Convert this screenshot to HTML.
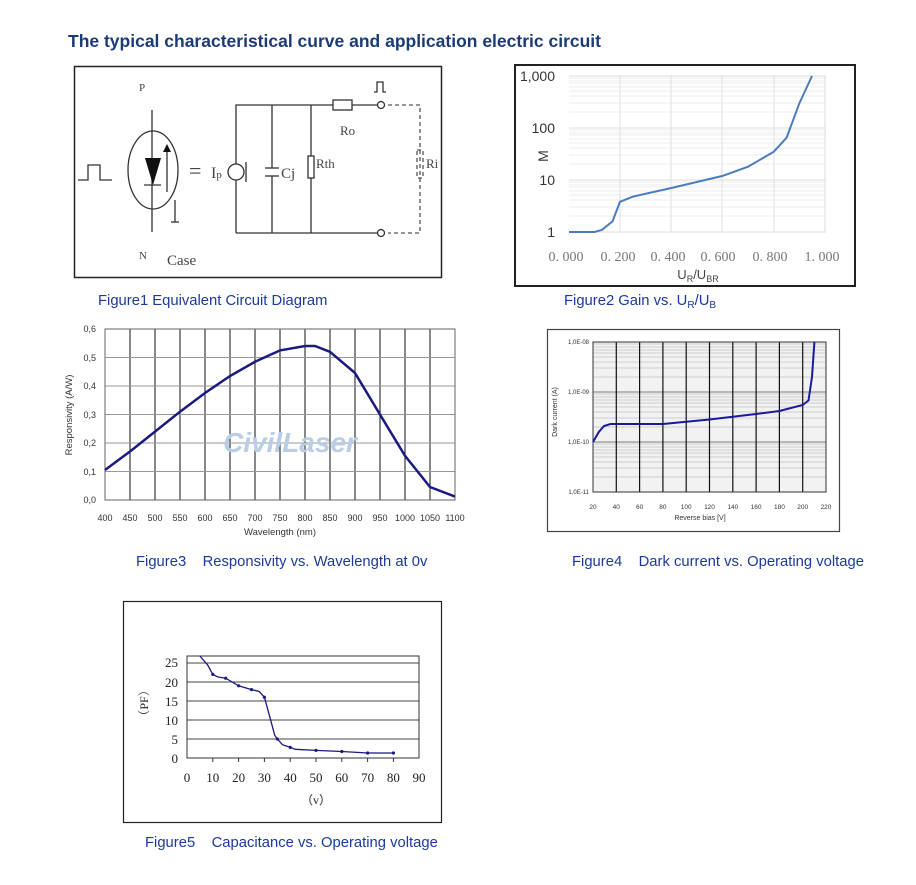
<!DOCTYPE html>
<html><head><meta charset="utf-8"><style>
body{margin:0;background:#fff;width:916px;height:885px;overflow:hidden;font-family:"Liberation Sans",Arial,sans-serif}
svg{position:absolute;left:0;top:0}
</style></head><body>
<svg width="916" height="885" xmlns="http://www.w3.org/2000/svg" font-family="Liberation Sans, sans-serif">
<text x="68" y="47" font-size="17.5" font-weight="bold" fill="#1b3a78">The typical characteristical curve and application electric circuit</text>

<!-- Figure 1 -->
<rect x="74.5" y="66.5" width="367" height="211" fill="#fff" stroke="#222" stroke-width="1.5"/>
<g stroke="#333" fill="none" stroke-width="1.3">
<polyline points="78,180 88,180 88,165 100,165 100,180 112,180"/>
<ellipse cx="153" cy="170" rx="25" ry="39"/>
<line x1="152" y1="110" x2="152" y2="232"/>
<line x1="144" y1="185" x2="161" y2="185"/>
<line x1="167" y1="192" x2="167" y2="150"/>
<line x1="175" y1="200" x2="175" y2="222"/>
<line x1="171" y1="222" x2="179" y2="222"/>
<polyline points="236,233 236,105 333,105"/>
<rect x="333" y="100" width="19" height="10"/>
<line x1="352" y1="105" x2="378" y2="105"/>
<circle cx="381" cy="105" r="3.5"/>
<line x1="236" y1="233" x2="378" y2="233"/>
<circle cx="381" cy="233" r="3.5"/>
<line x1="272" y1="105" x2="272" y2="168"/><line x1="272" y1="176" x2="272" y2="233"/>
<line x1="265" y1="168" x2="279" y2="168"/><line x1="265" y1="176" x2="279" y2="176"/>
<line x1="311" y1="105" x2="311" y2="233"/>
<rect x="308" y="156" width="6" height="22" fill="#fff"/>
<circle cx="236" cy="172" r="8" fill="#fff"/>
<line x1="246" y1="162" x2="246" y2="182"/>
<polyline points="374,92 377,92 377,82 383,82 383,92 386,92"/>
</g>
<polygon points="145,158 161,158 153,185" fill="#111"/>
<polygon points="163,152 171,152 167,144" fill="#111"/>
<g stroke="#555" stroke-dasharray="4,3" fill="none" stroke-width="1.3">
<polyline points="388,105 420,105 420,233 388,233"/>
<rect x="417" y="150" width="6" height="28"/>
</g>
<g font-family="Liberation Serif, serif" fill="#444">
<text x="139" y="91" font-size="11">P</text>
<text x="139" y="259" font-size="11">N</text>
<text x="167" y="265" font-size="15">Case</text>
<text x="189" y="178" font-size="22">=</text>
<text x="211" y="178" font-size="16">I<tspan font-size="11">p</tspan></text>
<text x="281" y="178" font-size="15">Cj</text>
<text x="316" y="168" font-size="13">Rth</text>
<text x="340" y="135" font-size="13">Ro</text>
<text x="426" y="168" font-size="13">Ri</text>
</g>
<text x="98" y="305" font-size="14.8" fill="#1b3a9a">Figure1 Equivalent Circuit Diagram</text>

<!-- Figure 2 -->
<rect x="515" y="65" width="340" height="221" fill="#fff" stroke="#222" stroke-width="2"/>
<g stroke="#ddd" stroke-width="1">
<line x1="569" y1="76" x2="826" y2="76"/>
<line x1="569" y1="128" x2="826" y2="128"/>
<line x1="569" y1="180" x2="826" y2="180"/>
<line x1="569" y1="232" x2="826" y2="232"/>
<line x1="620" y1="76" x2="620" y2="232"/><line x1="671" y1="76" x2="671" y2="232"/><line x1="722" y1="76" x2="722" y2="232"/><line x1="774" y1="76" x2="774" y2="232"/><line x1="825" y1="76" x2="825" y2="232"/>
</g>
<g stroke="#e6e6e6" stroke-width="0.8">
<line x1="569" y1="216" x2="826" y2="216"/><line x1="569" y1="207" x2="826" y2="207"/><line x1="569" y1="200" x2="826" y2="200"/><line x1="569" y1="195" x2="826" y2="195"/><line x1="569" y1="191" x2="826" y2="191"/><line x1="569" y1="187" x2="826" y2="187"/><line x1="569" y1="185" x2="826" y2="185"/><line x1="569" y1="182" x2="826" y2="182"/>
<line x1="569" y1="164" x2="826" y2="164"/><line x1="569" y1="155" x2="826" y2="155"/><line x1="569" y1="148" x2="826" y2="148"/><line x1="569" y1="143" x2="826" y2="143"/><line x1="569" y1="139" x2="826" y2="139"/><line x1="569" y1="135" x2="826" y2="135"/><line x1="569" y1="133" x2="826" y2="133"/><line x1="569" y1="130" x2="826" y2="130"/>
<line x1="569" y1="112" x2="826" y2="112"/><line x1="569" y1="103" x2="826" y2="103"/><line x1="569" y1="96" x2="826" y2="96"/><line x1="569" y1="91" x2="826" y2="91"/><line x1="569" y1="87" x2="826" y2="87"/><line x1="569" y1="83" x2="826" y2="83"/><line x1="569" y1="81" x2="826" y2="81"/><line x1="569" y1="78" x2="826" y2="78"/>
</g>
<polyline fill="none" stroke="#4a7cc0" stroke-width="2" points="569,232 594.6,232 602,229.8 612.5,221.4 620,201.8 633,196.6 671.4,188 722.6,175.9 748,166.7 773.8,151.7 786.6,137.7 799.4,103.2 812,76"/>
<g font-size="14" fill="#333" text-anchor="end">
<text x="555" y="81">1,000</text><text x="555" y="133">100</text><text x="555" y="185">10</text><text x="555" y="237">1</text>
</g>
<text x="543" y="156" font-size="14" fill="#333" transform="rotate(-90 543 156)" text-anchor="middle" dy="5">M</text>
<g font-family="Liberation Serif, serif" font-size="14" fill="#777" text-anchor="middle">
<text x="566" y="261">0. 000</text><text x="618" y="261">0. 200</text><text x="668" y="261">0. 400</text><text x="718" y="261">0. 600</text><text x="770" y="261">0. 800</text><text x="822" y="261">1. 000</text>
</g>
<text x="698" y="279" font-size="13" fill="#444" text-anchor="middle">U<tspan font-size="9" dy="3">R</tspan><tspan dy="-3">/U</tspan><tspan font-size="9" dy="3">BR</tspan></text>
<text x="564" y="305" font-size="14.8" fill="#1b3a9a">Figure2 Gain vs. U<tspan font-size="10" dy="3">R</tspan><tspan dy="-3">/U</tspan><tspan font-size="10" dy="3">B</tspan></text>

<!-- Figure 3 -->
<g stroke="#111" stroke-width="1">
<line x1="130" y1="329" x2="130" y2="500"/><line x1="155" y1="329" x2="155" y2="500"/><line x1="180" y1="329" x2="180" y2="500"/><line x1="205" y1="329" x2="205" y2="500"/><line x1="230" y1="329" x2="230" y2="500"/><line x1="255" y1="329" x2="255" y2="500"/><line x1="280" y1="329" x2="280" y2="500"/><line x1="305" y1="329" x2="305" y2="500"/><line x1="330" y1="329" x2="330" y2="500"/><line x1="355" y1="329" x2="355" y2="500"/><line x1="380" y1="329" x2="380" y2="500"/><line x1="405" y1="329" x2="405" y2="500"/><line x1="430" y1="329" x2="430" y2="500"/>
</g>
<g stroke="#999" stroke-width="1">
<line x1="105" y1="357.5" x2="455" y2="357.5"/><line x1="105" y1="386" x2="455" y2="386"/><line x1="105" y1="414.5" x2="455" y2="414.5"/><line x1="105" y1="443" x2="455" y2="443"/><line x1="105" y1="471.5" x2="455" y2="471.5"/>
</g>
<rect x="105" y="329" width="350" height="171" fill="none" stroke="#666"/>
<text x="290" y="452" font-size="28" font-weight="bold" font-style="italic" fill="#b8cde6" text-anchor="middle">CivilLaser</text>
<polyline fill="none" stroke="#1a1a80" stroke-width="2.5" points="105,470 130,451.5 155,431.6 180,411.7 205,393 230,376 255,361.8 280,350.4 305,346 315,346 330,351.8 355,373 380,414.5 405,455.8 430,487 455,496.6"/>
<g font-size="9" fill="#333" text-anchor="end">
<text x="96" y="332">0,6</text><text x="96" y="361">0,5</text><text x="96" y="389">0,4</text><text x="96" y="418">0,3</text><text x="96" y="446">0,2</text><text x="96" y="475">0,1</text><text x="96" y="503">0,0</text>
</g>
<g font-size="9" fill="#333" text-anchor="middle">
<text x="105" y="521">400</text><text x="130" y="521">450</text><text x="155" y="521">500</text><text x="180" y="521">550</text><text x="205" y="521">600</text><text x="230" y="521">650</text><text x="255" y="521">700</text><text x="280" y="521">750</text><text x="305" y="521">800</text><text x="330" y="521">850</text><text x="355" y="521">900</text><text x="380" y="521">950</text><text x="405" y="521">1000</text><text x="430" y="521">1050</text><text x="455" y="521">1100</text>
</g>
<text x="280" y="535" font-size="9.5" fill="#333" text-anchor="middle">Wavelength (nm)</text>
<text x="72" y="415" font-size="9.5" fill="#333" text-anchor="middle" transform="rotate(-90 72 415)">Responsivity (A/W)</text>
<text x="136" y="566" font-size="14.8" fill="#1b3a9a">Figure3&#160;&#160;&#160; Responsivity vs. Wavelength at 0v</text>

<!-- Figure 4 -->
<rect x="547.5" y="329.5" width="292" height="202" fill="#fff" stroke="#444" stroke-width="1.2"/>
<rect x="593" y="342" width="233" height="150" fill="#f2f2f2"/>
<g stroke="#aaa" stroke-width="0.6">
<line x1="593" y1="477" x2="826" y2="477"/><line x1="593" y1="468" x2="826" y2="468"/><line x1="593" y1="462" x2="826" y2="462"/><line x1="593" y1="457" x2="826" y2="457"/><line x1="593" y1="453" x2="826" y2="453"/><line x1="593" y1="450" x2="826" y2="450"/><line x1="593" y1="447" x2="826" y2="447"/><line x1="593" y1="444" x2="826" y2="444"/>
<line x1="593" y1="427" x2="826" y2="427"/><line x1="593" y1="418" x2="826" y2="418"/><line x1="593" y1="412" x2="826" y2="412"/><line x1="593" y1="407" x2="826" y2="407"/><line x1="593" y1="403" x2="826" y2="403"/><line x1="593" y1="400" x2="826" y2="400"/><line x1="593" y1="397" x2="826" y2="397"/><line x1="593" y1="394" x2="826" y2="394"/>
<line x1="593" y1="377" x2="826" y2="377"/><line x1="593" y1="368" x2="826" y2="368"/><line x1="593" y1="362" x2="826" y2="362"/><line x1="593" y1="357" x2="826" y2="357"/><line x1="593" y1="353" x2="826" y2="353"/><line x1="593" y1="350" x2="826" y2="350"/><line x1="593" y1="347" x2="826" y2="347"/><line x1="593" y1="344" x2="826" y2="344"/>
</g>
<g stroke="#555" stroke-width="0.8"><line x1="593" y1="392" x2="826" y2="392"/><line x1="593" y1="442" x2="826" y2="442"/></g>
<g stroke="#111" stroke-width="1.2">
<line x1="616.3" y1="342" x2="616.3" y2="492"/><line x1="639.6" y1="342" x2="639.6" y2="492"/><line x1="662.9" y1="342" x2="662.9" y2="492"/><line x1="686.2" y1="342" x2="686.2" y2="492"/><line x1="709.5" y1="342" x2="709.5" y2="492"/><line x1="732.8" y1="342" x2="732.8" y2="492"/><line x1="756.1" y1="342" x2="756.1" y2="492"/><line x1="779.4" y1="342" x2="779.4" y2="492"/><line x1="802.7" y1="342" x2="802.7" y2="492"/>
</g>
<rect x="593" y="342" width="233" height="150" fill="none" stroke="#333"/>
<polyline fill="none" stroke="#1a1a9a" stroke-width="2" points="593,442 598.8,432 604,426 610.5,424 663,424 709.5,419.5 756,414 779.4,411 802.7,405 808.5,400.5 812,377 814.4,342"/>
<g font-size="6" fill="#333" text-anchor="end">
<text x="589" y="344">1,0E-08</text><text x="589" y="394">1,0E-09</text><text x="589" y="444">1,0E-10</text><text x="589" y="494">1,0E-11</text>
</g>
<g font-size="6.5" fill="#333" text-anchor="middle">
<text x="593" y="509">20</text><text x="616.3" y="509">40</text><text x="639.6" y="509">60</text><text x="662.9" y="509">80</text><text x="686.2" y="509">100</text><text x="709.5" y="509">120</text><text x="732.8" y="509">140</text><text x="756.1" y="509">160</text><text x="779.4" y="509">180</text><text x="802.7" y="509">200</text><text x="826" y="509">220</text>
</g>
<text x="700" y="520" font-size="7" fill="#333" text-anchor="middle">Reverse bias [V]</text>
<text x="557" y="412" font-size="7" fill="#333" text-anchor="middle" transform="rotate(-90 557 412)">Dark current  (A)</text>
<text x="572" y="566" font-size="14.8" fill="#1b3a9a">Figure4&#160;&#160;&#160; Dark current vs. Operating voltage</text>

<!-- Figure 5 -->
<rect x="123.5" y="601.5" width="318" height="221" fill="#fff" stroke="#222" stroke-width="1.2"/>
<g stroke="#444" stroke-width="1">
<line x1="187" y1="663" x2="419" y2="663"/><line x1="187" y1="682" x2="419" y2="682"/><line x1="187" y1="701" x2="419" y2="701"/><line x1="187" y1="720" x2="419" y2="720"/><line x1="187" y1="739" x2="419" y2="739"/>
</g>
<rect x="187" y="656" width="232" height="102" fill="none" stroke="#333"/>
<g stroke="#333"><line x1="212.8" y1="758" x2="212.8" y2="762"/><line x1="238.6" y1="758" x2="238.6" y2="762"/><line x1="264.4" y1="758" x2="264.4" y2="762"/><line x1="290.2" y1="758" x2="290.2" y2="762"/><line x1="316" y1="758" x2="316" y2="762"/><line x1="341.8" y1="758" x2="341.8" y2="762"/><line x1="367.6" y1="758" x2="367.6" y2="762"/><line x1="393.4" y1="758" x2="393.4" y2="762"/></g>
<polyline fill="none" stroke="#1a1a80" stroke-width="1.3" points="199.9,656 207.6,664.9 212.8,674.4 218,677 225.7,678.2 238.6,685.8 251.5,689.6 259.2,691.5 264.4,697.2 269.6,716.2 274.7,735.2 277.3,739 282.5,744.7 290.2,747.4 295.4,749.3 316,750.4 341.8,751.5 367.6,753 393.4,753"/>
<g fill="#1a1a80"><circle cx="212.8" cy="674.4" r="1.6"/><circle cx="225.7" cy="678.2" r="1.6"/><circle cx="238.6" cy="685.8" r="1.6"/><circle cx="251.5" cy="689.6" r="1.6"/><circle cx="264.4" cy="697.2" r="1.6"/><circle cx="277.3" cy="739" r="1.6"/><circle cx="290.2" cy="747.4" r="1.6"/><circle cx="316" cy="750.4" r="1.6"/><circle cx="341.8" cy="751.5" r="1.6"/><circle cx="367.6" cy="753" r="1.6"/><circle cx="393.4" cy="753" r="1.6"/></g>
<g font-family="Liberation Serif, serif" font-size="13" fill="#222" text-anchor="end">
<text x="178" y="667">25</text><text x="178" y="687">20</text><text x="178" y="706">15</text><text x="178" y="725">10</text><text x="178" y="744">5</text><text x="178" y="763">0</text>
</g>
<g font-family="Liberation Serif, serif" font-size="13" fill="#222" text-anchor="middle">
<text x="187" y="782">0</text><text x="212.8" y="782">10</text><text x="238.6" y="782">20</text><text x="264.4" y="782">30</text><text x="290.2" y="782">40</text><text x="316" y="782">50</text><text x="341.8" y="782">60</text><text x="367.6" y="782">70</text><text x="393.4" y="782">80</text><text x="419" y="782">90</text>
<text x="316" y="804" font-size="12">（v）</text>
</g>
<text x="148" y="703" font-family="Liberation Serif, 'Noto Serif CJK SC', serif" font-size="12" fill="#222" text-anchor="middle" transform="rotate(-90 148 703)">（PF）</text>
<text x="145" y="847" font-size="14.8" fill="#1b3a9a">Figure5&#160;&#160;&#160; Capacitance vs. Operating voltage</text>
</svg>
</body></html>
